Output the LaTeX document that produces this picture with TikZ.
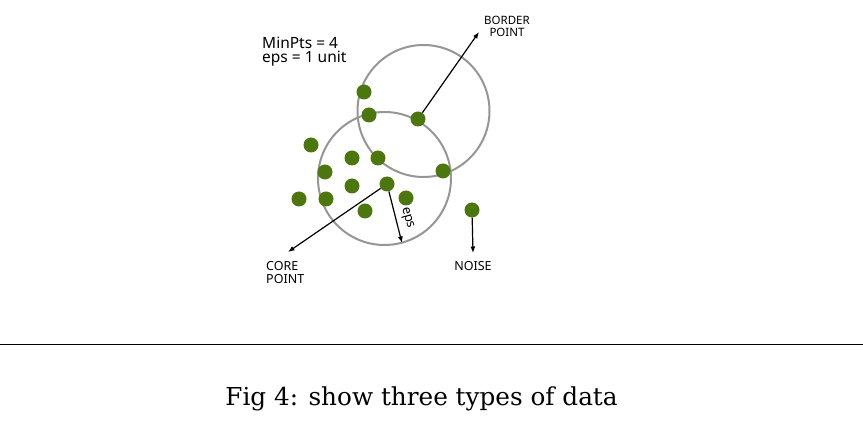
\documentclass[tikz,border=0pt]{standalone}
\usepackage{fontspec}
\setmainfont{Noto Sans}
\newfontfamily\capfont{DejaVu Serif}
\usetikzlibrary{arrows.meta}
\definecolor{dotgreen}{RGB}{76,118,14}
\definecolor{ringgray}{RGB}{150,150,150}
\begin{document}
\begin{tikzpicture}[x=1pt,y=-1pt,
  dot/.style={circle,fill=dotgreen,inner sep=0pt,minimum size=15pt},
  ring/.style={draw=ringgray,line width=2pt},
  pointer/.style={line width=1.2pt,-{Latex[length=6.5pt,width=5pt]}},
  lbl/.style={inner sep=0pt,font=\fontsize{12.5}{13}\selectfont}]
\useasboundingbox (0,0) rectangle (863,435);

\draw[ring] (423.5,111) circle (66pt);
\draw[ring] (384.5,178.5) circle (66.5pt);

\foreach \x/\y [count=\i] in {364/92,369/115,311/145,352/158,378/158,325/172,443/171,352/186,299/199,326/199,406/198,365/211}
  \node[dot] (d\i) at (\x,\y) {};
\node[dot] (border) at (418,119) {};
\node[dot] (core) at (387,184) {};
\node[dot] (noise) at (472,210) {};

\node[lbl,font=\fontsize{15.5}{14}\selectfont,align=left,anchor=north west] (params) at (262,37) {MinPts = 4\\eps = 1 unit};
\node[lbl,font=\fontsize{11.5}{12}\selectfont,align=center,anchor=north] (borderlbl) at (507,16) {BORDER\\POINT};
\node[lbl,align=left,anchor=north west] (corelbl) at (266,261) {CORE\\POINT};
\node[lbl,anchor=north] (noiselbl) at (473,261) {NOISE};
\node[lbl,font=\fontsize{13}{13}\selectfont,rotate=-74] (epslbl) at (407,218) {eps};

\coordinate (borderend) at (479,32);
\coordinate (coreend) at (288,252);
\coordinate (epsend) at (402,243);
\coordinate (noiseend) at (473,253);
\draw[pointer] (border) -- (borderend);
\draw[pointer] (core) -- (coreend);
\draw[pointer] (core) -- (epsend);
\draw[pointer] (noise) -- (noiseend);

\coordinate (ruleL) at (0,345);
\coordinate (ruleR) at (863,345);
\draw[line width=1pt] (ruleL) -- (ruleR);
\node[font=\capfont\fontsize{24.7}{28}\selectfont,anchor=base,inner sep=0pt] (caption) at (421.5,406) {Fig 4: show three types of data};
\end{tikzpicture}
\end{document}
